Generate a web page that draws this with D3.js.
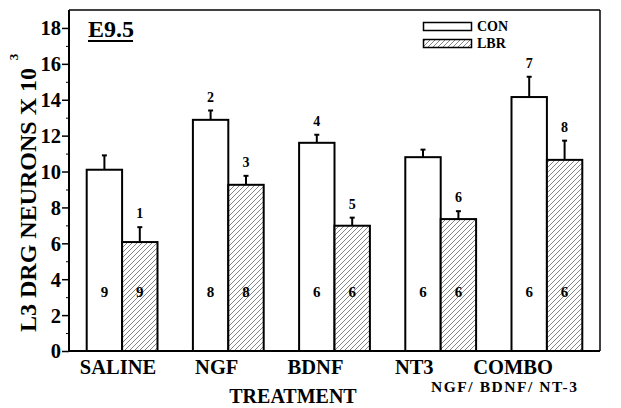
<!DOCTYPE html>
<html><head><meta charset="utf-8">
<script src="https://cdn.jsdelivr.net/npm/d3@7"></script>
<style>
html,body{margin:0;padding:0;background:#fff;}
svg text{font-family:"Liberation Serif","Times New Roman",serif;font-weight:bold;fill:#000;}
</style></head>
<body>
<svg id="chart" width="621" height="408"></svg>
<script>
const categories = ["SALINE","NGF","BDNF","NT3","COMBO"];
const series = ["CON","LBR"];
const conValues = [10.1, 12.88, 11.6, 10.8, 14.15];
const conErrors = [0.8, 0.52, 0.45, 0.42, 1.13];
const lbrValues = [6.07, 9.26, 6.98, 7.35, 10.65];
const lbrErrors = [0.83, 0.5, 0.45, 0.44, 1.07];
const conN = [9, 8, 6, 6, 6];
const lbrN = [9, 8, 6, 6, 6];
const conMarks = ["", "2", "4", "", "7"];
const lbrMarks = ["1", "3", "5", "6", "8"];
const yTicks = [0,2,4,6,8,10,12,14,16,18];
const yMinorTicks = [1,3,5,7,9,11,13,15,17];

const svg = d3.select("#chart");
const L = 69, R = 600, T = 10, B = 351;

const x = d3.scaleBand().domain(categories).range([L, R]).padding(0);
const xs = d3.scaleBand().domain(series).range([x.bandwidth()/6, x.bandwidth()*5/6]).padding(0);
const y = d3.scaleLinear().domain([0, 19]).range([B, T]);
const xLab = d3.scalePoint().domain(categories).range([118, 513]);

// hatch pattern
const defs = svg.append("defs");
const pat = defs.append("pattern").attr("id","hatch").attr("patternUnits","userSpaceOnUse")
  .attr("width",5).attr("height",5);
pat.append("rect").attr("width",5).attr("height",5).attr("fill","#fff");
pat.append("path").attr("d","M-1,1 L1,-1 M0,5 L5,0 M4,6 L6,4")
  .attr("stroke","#666").attr("stroke-width",0.8);

const data = categories.map((c,i)=>[
  {cat:c, s:"CON", v:conValues[i], e:conErrors[i], n:conN[i], m:conMarks[i]},
  {cat:c, s:"LBR", v:lbrValues[i], e:lbrErrors[i], n:lbrN[i], m:lbrMarks[i]}
]).flat();

// frame
svg.append("line").attr("x1",L).attr("x2",R).attr("y1",T).attr("y2",T).attr("stroke","#000").attr("stroke-width",1.5);
svg.append("line").attr("x1",R).attr("x2",R).attr("y1",T).attr("y2",B).attr("stroke","#000").attr("stroke-width",1.5);

// bars
const g = svg.append("g");
data.forEach(d=>{
  const bx = x(d.cat) + xs(d.s);
  const bw = xs.bandwidth();
  const cx = bx + bw/2;
  g.append("line").attr("x1",cx).attr("x2",cx).attr("y1",y(d.v)).attr("y2",y(d.v+d.e))
    .attr("stroke","#000").attr("stroke-width",2);
  g.append("line").attr("x1",cx-2.5).attr("x2",cx+2.5).attr("y1",y(d.v+d.e)).attr("y2",y(d.v+d.e))
    .attr("stroke","#000").attr("stroke-width",2);
  g.append("rect").attr("x",bx).attr("y",y(d.v)).attr("width",bw).attr("height",y(0)-y(d.v))
    .attr("fill", d.s==="CON" ? "#fff" : "url(#hatch)").attr("stroke","#000").attr("stroke-width",2);
  if (d.m) g.append("text").attr("x",cx).attr("y",y(d.v+d.e)-9).attr("text-anchor","middle")
    .attr("font-size",14).text(d.m);
  g.append("text").attr("x",cx).attr("y",y(0)-54).attr("text-anchor","middle")
    .attr("font-size",15).text(d.n);
});

// y axis
const yAxis = svg.append("g").attr("transform",`translate(${L},0)`)
  .call(d3.axisLeft(y).tickValues(yTicks).tickSize(7).tickPadding(1).tickFormat(d3.format("d")));
yAxis.attr("font-family",null);
yAxis.select(".domain").attr("stroke","#000").attr("stroke-width",2).attr("d",`M0,${T}V${B}`);
yAxis.selectAll(".tick line").attr("stroke-width",1.5);
yAxis.selectAll("text").attr("font-size",20.5).attr("dy","0.34em");
svg.append("g").attr("transform",`translate(${L},0)`)
  .call(d3.axisLeft(y).tickValues(yMinorTicks).tickSize(3).tickFormat(""))
  .call(s=>s.select(".domain").remove())
  .selectAll("line").attr("stroke-width",1);

// x axis line
svg.append("line").attr("x1",L-1).attr("x2",R).attr("y1",B).attr("y2",B).attr("stroke","#000").attr("stroke-width",2);

// x labels
svg.selectAll(".xl").data(categories).enter().append("text")
  .attr("x",d=>xLab(d)).attr("y",373.5).attr("text-anchor","middle").attr("font-size",20.5).text(d=>d);
svg.append("text").attr("x",504).attr("y",392).attr("text-anchor","middle").attr("font-size",15.5)
  .attr("textLength",146).attr("lengthAdjust","spacing")
  .text("NGF/ BDNF/ NT-3");
svg.append("text").attr("x",293).attr("y",402.5).attr("text-anchor","middle").attr("font-size",20)
  .text("TREATMENT");

// y label
svg.append("text").attr("transform","translate(36,200) rotate(-90)").attr("text-anchor","middle")
  .attr("font-size",24).text("L3 DRG NEURONS X 10");
svg.append("text").attr("transform","translate(18,57) rotate(-90)").attr("text-anchor","middle")
  .attr("font-size",13).text("3");

// E9.5 title
svg.append("text").attr("x",88).attr("y",37).attr("font-size",24).text("E9.5");
svg.append("line").attr("x1",88).attr("x2",133).attr("y1",41).attr("y2",41).attr("stroke","#000").attr("stroke-width",2);

// legend
const legend = svg.append("g");
series.forEach((s,i)=>{
  const ly = 22.5 + i*17;
  legend.append("rect").attr("x",423.5).attr("y",ly).attr("width",48).attr("height",8)
    .attr("fill", s==="CON" ? "#fff" : "url(#hatch)").attr("stroke","#000").attr("stroke-width",1.5);
  legend.append("text").attr("x",477).attr("y",ly+8.5).attr("font-size",14).text(s);
});
</script>
</body></html>
